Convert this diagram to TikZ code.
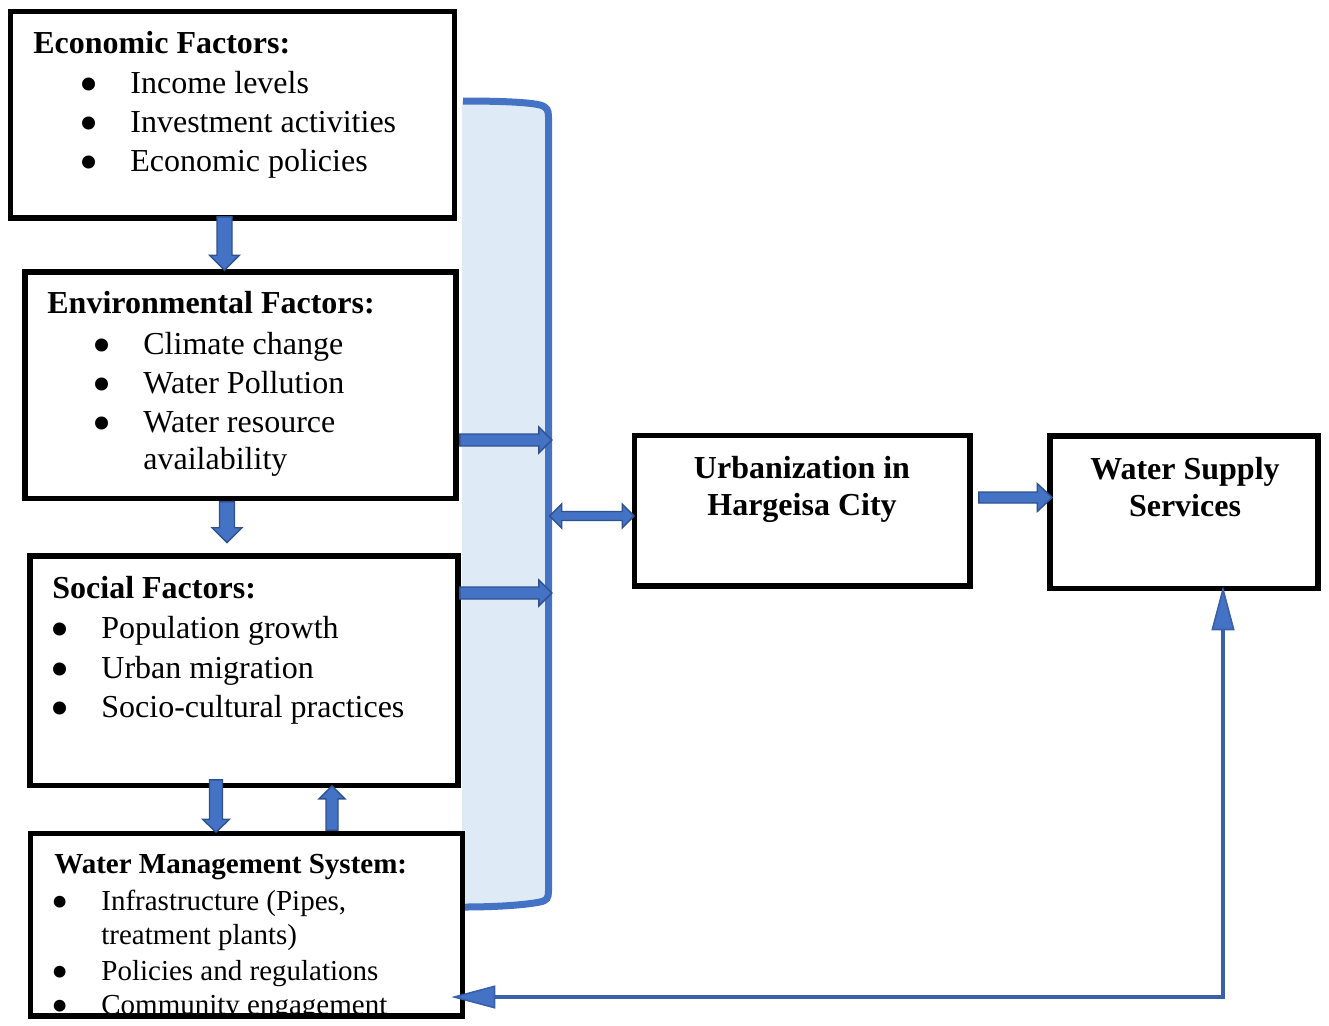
\documentclass[tikz,border=0pt]{standalone}
\usepackage{fontspec}
\setmainfont{Liberation Serif}
\usetikzlibrary{calc,arrows.meta}

\definecolor{blockblue}{RGB}{68,114,196}
\definecolor{edgeblue}{RGB}{47,82,143}
\definecolor{lineblue}{RGB}{58,96,170}
\definecolor{bandfill}{RGB}{222,235,247}

\tikzset{
  factorbox/.style={draw=black, line width=2.8pt, inner sep=0pt},
  headtext/.style={anchor=base west, inner sep=0pt, font=\fontsize{16}{19.5}\selectfont\bfseries},
  itemtext/.style={anchor=base west, inner sep=0pt, font=\fontsize{16}{19.5}\selectfont},
  smallhead/.style={anchor=base west, inner sep=0pt, font=\fontsize{14.5}{17.5}\selectfont\bfseries},
  smallitem/.style={anchor=base west, inner sep=0pt, font=\fontsize{14.5}{17.5}\selectfont},
  centretext/.style={anchor=base, inner sep=0pt, font=\fontsize{16}{19.5}\selectfont\bfseries},
  blockarrow/.style={fill=blockblue, draw=edgeblue, line width=0.7pt, line join=miter},
  bandline/.style={draw=blockblue, line width=3.5pt, line cap=butt},
  feedback/.style={draw=lineblue, line width=2.2pt,
    {Triangle[length=22pt,width=11.5pt,fill=blockblue,line width=0.8pt]}-{Triangle[length=22pt,width=11.5pt,fill=blockblue,line width=0.8pt]}}
}

% bullet hanging left of the item text
\newcommand{\bitem}{\llap{\smash{\raisebox{-0.3em}{\scalebox{1.7}{\textbullet}}}\hspace{\dimexpr 20.5pt-0.3em\relax}}}

% block arrows: start, end, shaft half width, head half width, head length
\newcommand{\hblockarrow}[5]{%
  \draw[blockarrow] let \p1=#1, \p2=#2, \n1={sign(\x2-\x1)} in
    (\x1,\y1-#3) -- ({\x2-(\n1)*#5},\y1-#3) -- ({\x2-(\n1)*#5},\y1-#4) -- (\x2,\y1)
    -- ({\x2-(\n1)*#5},\y1+#4) -- ({\x2-(\n1)*#5},\y1+#3) -- (\x1,\y1+#3) -- cycle;}
\newcommand{\vblockarrow}[5]{%
  \draw[blockarrow] let \p1=#1, \p2=#2, \n1={sign(\y2-\y1)} in
    (\x1-#3,\y1) -- (\x1-#3,{\y2-(\n1)*#5}) -- (\x1-#4,{\y2-(\n1)*#5}) -- (\x1,\y2)
    -- (\x1+#4,{\y2-(\n1)*#5}) -- (\x1+#3,{\y2-(\n1)*#5}) -- (\x1+#3,\y1) -- cycle;}
\newcommand{\dblockarrow}[5]{%
  \draw[blockarrow] let \p1=#1, \p2=#2 in
    (\x1,\y1) -- (\x1+#5,\y1+#4) -- (\x1+#5,\y1+#3) -- (\x2-#5,\y1+#3) -- (\x2-#5,\y1+#4)
    -- (\x2,\y1) -- (\x2-#5,\y1-#4) -- (\x2-#5,\y1-#3) -- (\x1+#5,\y1-#3) -- (\x1+#5,\y1-#4) -- cycle;}

\begin{document}
\begin{tikzpicture}[x=0.5pt, y=-0.5pt]
  \useasboundingbox (0,0) rectangle (1329,1025);

  % Band behind the factor boxes
  \fill[bandfill] (462,101) .. controls (505,101) and (530,102.5) .. (540,105)
    .. controls (547,107) and (548.5,110) .. (548.5,117) -- (548.5,891)
    .. controls (548.5,898) and (547,900.5) .. (540,902)
    .. controls (530,904) and (505,907) .. (462,907) -- cycle;
  \draw[bandline] (463,101) .. controls (505,101) and (530,102.5) .. (540,105)
    .. controls (547,107) and (548.5,110) .. (548.5,117) -- (548.5,891)
    .. controls (548.5,898) and (547,900.5) .. (540,902)
    .. controls (530,904) and (505,907) .. (463,907);

  % Factor boxes
  \node[factorbox, minimum width=222pt, minimum height=103.25pt] (eco) at (232.5,114.75) {};
  \node[factorbox, minimum width=215.5pt, minimum height=113.25pt] (env) at (240.5,385.25) {};
  \node[factorbox, minimum width=214pt, minimum height=114.75pt] (soc) at (244,670.75) {};
  \node[factorbox, minimum width=216pt, minimum height=91.25pt] (wms) at (246.5,924.75) {};
  \node[factorbox, minimum width=167.75pt, minimum height=75.25pt] (urb) at (802.25,510.75) {};
  \node[factorbox, minimum width=134pt, minimum height=76.25pt] (wss) at (1184,512.25) {};

  % Economic factors
  \node[headtext] (ecohead) at (33,53) {Economic Factors:};
  \node[itemtext] (eco1) at (130,93) {\bitem Income levels};
  \node[itemtext] (eco2) at (130,132) {\bitem Investment activities};
  \node[itemtext] (eco3) at (130,171) {\bitem Economic policies};

  % Environmental factors
  \node[headtext] (envhead) at (47,313) {Environmental Factors:};
  \node[itemtext] (env1) at (143,354) {\bitem Climate change};
  \node[itemtext] (env2) at (143,393) {\bitem Water Pollution};
  \node[itemtext] (env3) at (143,432) {\bitem Water resource};
  \node[itemtext] (env3b) at (143,469) {availability};

  % Social factors
  \node[headtext] (sochead) at (52,598) {Social Factors:};
  \node[itemtext] (soc1) at (101,638) {\bitem Population growth};
  \node[itemtext] (soc2) at (101,678) {\bitem Urban migration};
  \node[itemtext] (soc3) at (101,717) {\bitem Socio-cultural practices};

  % Water management system (text cut by the box)
  \begin{scope}
    \clip (31,835) rectangle (461,1013);
    \node[smallhead] (wmshead) at (54,873) {Water Management System:};
    \node[smallitem] (wms1) at (101,910) {\bitem Infrastructure (Pipes,};
    \node[smallitem] (wms1b) at (101,944) {treatment plants)};
    \node[smallitem] (wms2) at (101,980) {\bitem Policies and regulations};
    \node[smallitem] (wms3) at (101,1014) {\bitem Community engagement};
  \end{scope}

  % Urbanization and water supply
  \node[centretext] (urb1) at (802,478) {Urbanization in};
  \node[centretext] (urb2) at (802,515) {Hargeisa City};
  \node[centretext] (wss1) at (1185,479) {Water Supply};
  \node[centretext] (wss2) at (1185,516) {Services};

  % Block arrows
  \vblockarrow{($(eco.south)+(-8,-4)$)}{($(env.north)+(-16,1)$)}{3.75pt}{7.5pt}{7.5pt}
  \vblockarrow{($(env.south)+(-13.5,0.5)$)}{($(soc.north)+(-17,-10.5)$)}{3.75pt}{7.5pt}{7.5pt}
  \vblockarrow{($(soc.south)+(-28,-8.5)$)}{($(wms.north)+(-30.5,1.5)$)}{3.25pt}{6.75pt}{6.5pt}
  \vblockarrow{($(wms.north)+(85.5,-0.5)$)}{($(soc.south)+(88,-2.5)$)}{3pt}{6.5pt}{6.5pt}
  \hblockarrow{($(env.east)+(1,54.75)$)}{($(env.east)+(93,54.75)$)}{3pt}{6.5pt}{6.5pt}
  \hblockarrow{($(soc.east)+(-1,-77.75)$)}{($(soc.east)+(91,-77.75)$)}{3pt}{6.5pt}{6.5pt}
  \dblockarrow{($(urb.west)+(-82,5.25)$)}{($(urb.west)+(2.5,5.25)$)}{2.25pt}{6pt}{6pt}
  \hblockarrow{($(urb.east)+(6,-13.25)$)}{($(wss.west)+(5,-14.75)$)}{2.75pt}{7pt}{7.5pt}

  % Feedback from water supply to water management
  \coordinate (fbturn) at (1223,997);
  \draw[feedback] ($(wss.south -| fbturn)+(0,-5)$) -- (fbturn) -- ($(wms.east |- fbturn)+(-14,0)$);
\end{tikzpicture}
\end{document}
